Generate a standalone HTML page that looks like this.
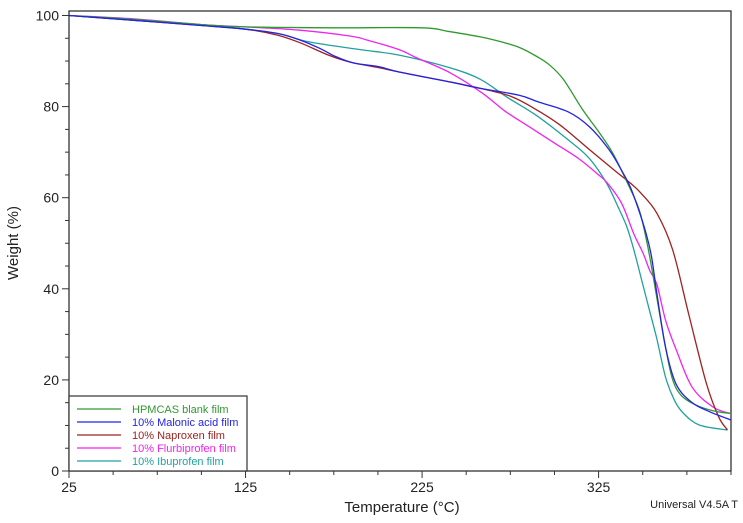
<!DOCTYPE html>
<html><head><meta charset="utf-8"><style>
html,body{margin:0;padding:0;background:#fff;}
svg{display:block;font-family:"Liberation Sans",Arial,sans-serif;}
</style></head><body>
<svg id="chart" width="743" height="523" viewBox="0 0 743 523">
<g id="axes"></g>
<g id="series"></g>
<g id="legend"></g>
<text x="18" y="243" transform="rotate(-90 18 243)" text-anchor="middle" font-size="15" fill="#222">Weight (%)</text>
<text x="402" y="512" text-anchor="middle" font-size="15" fill="#222">Temperature (°C)</text>
<text x="738" y="508" text-anchor="end" font-size="11" fill="#222">Universal V4.5A T</text>
</svg>
<script>
const xTickLabels = [25, 125, 225, 325];
const yTickLabels = [0, 20, 40, 60, 80, 100];
const seriesNames = ["HPMCAS blank film","10% Malonic acid film","10% Naproxen film","10% Flurbiprofen film","10% Ibuprofen film"];
const seriesColors = ["#2e9a2e","#2323e6","#a02222","#f024f0","#22a0a0"];
const greenT = [25,60,100,125,175,225,240,258,270,280,290,297,305,316,325,333,341,348,353,358,363,367,372,380,390,400];
const greenW = [100,99.2,98,97.5,97.3,97.3,96.5,95.3,94.2,93,91,89.2,86,79.3,74.5,69.8,63.5,57.3,49,38,27,20,16.5,14.5,13.2,12.6];
const blueT = [25,60,100,125,144,156,167,176,186,200,212,241,258,280,291,308,320,331,338,343,348,352,355,358,363,369,378,388,400];
const blueW = [100,99,97.8,97,96,94.6,92.8,91,89.6,88.8,87.6,85.4,84,82.5,81,78.8,75.5,70.5,66,62.3,57,52,47,39,27,19,15,13,11.2];
const redT = [25,60,100,125,143,156,172,184,201,212,241,258,275,289,303,320,334,343,349,358,367,376,386,393,398];
const redW = [100,99,97.8,97,95.7,94,91.3,89.8,88.5,87.6,85.4,84,82.3,79.5,76,70.5,66,63.2,61,56.6,48.5,34.5,19.3,11.9,9];
const magT = [25,60,100,125,155,184,194,212,222,241,259,272,286,300,314,325,330,338,345,350,354,358,363,369,378,390,400];
const magW = [100,99.3,98,97.5,96.8,95.5,94.6,92.5,90.7,87.4,83,79,75.5,72,68.5,65,63.2,58.8,52,48,44,41,33,26.6,18.4,14,12.6];
const tealT = [25,60,100,125,144,161,190,212,241,258,273,290,310,320,329.5,336,341,345,350,354,358,363,368,373,382,398];
const tealW = [100,99,98,97,96,94.2,92.5,91.3,88.5,86,82.1,78,72,68.5,63.2,58,53.6,48.5,41,35,29,20.5,15.5,12.7,10.1,9];

const X0=69,X1=731,Y0=471,Ytop=11;
const xs = t => X0 + (t-25)*(X1-X0)/375;
const ys = w => Y0 - w*4.555;
const NS="http://www.w3.org/2000/svg";
function mk(tag,attrs,parent){const e=document.createElementNS(NS,tag);for(const k in attrs)e.setAttribute(k,attrs[k]);parent.appendChild(e);return e;}
const axes=document.getElementById('axes');
const frame=mk('rect',{x:X0,y:Ytop,width:X1-X0,height:Y0-Ytop,fill:'none',stroke:'#333','stroke-width':1.3},axes);


for(let t=25;t<=400;t+=25){
  const major = xTickLabels.includes(t);
  const tk=mk('line',{x1:xs(t),x2:xs(t),y1:Y0,y2:Y0+(major?7:4),stroke:'#333','stroke-width':1},axes);
  
  
}
xTickLabels.forEach(t=>{
  const tx=mk('text',{x:xs(t),y:Y0+21,'text-anchor':'middle','font-size':14,fill:'#222'},axes);
  tx.textContent=t;
  
  
});
for(let w=0;w<=100;w+=5){
  const major = yTickLabels.includes(w);
  const tk=mk('line',{x1:X0-(major?7:4),x2:X0,y1:ys(w),y2:ys(w),stroke:'#333','stroke-width':1},axes);
  
  
}
yTickLabels.forEach(w=>{
  const tx=mk('text',{x:X0-10,y:ys(w)+5,'text-anchor':'end','font-size':14,fill:'#222'},axes);
  tx.textContent=w;
  
  
});
function smoothPath(T,W){
  const p=T.map((t,i)=>[xs(t),ys(W[i])]);
  let d='M'+p[0][0].toFixed(2)+','+p[0][1].toFixed(2);
  for(let i=0;i<p.length-1;i++){
    const a=p[Math.max(0,i-1)],b=p[i],c=p[i+1],e=p[Math.min(p.length-1,i+2)];
    const c1=[b[0]+(c[0]-a[0])/6,b[1]+(c[1]-a[1])/6],c2=[c[0]-(e[0]-b[0])/6,c[1]-(e[1]-b[1])/6];
    d+=' C'+c1.map(v=>v.toFixed(2)).join(',')+' '+c2.map(v=>v.toFixed(2)).join(',')+' '+c[0].toFixed(2)+','+c[1].toFixed(2);
  }
  return d;
}
const allT=[greenT,blueT,redT,magT,tealT], allW=[greenW,blueW,redW,magW,tealW];
const seriesKeys=['hpmcas','malonic','naproxen','flurbiprofen','ibuprofen'];
const sg=document.getElementById('series');
[4,3,2,0,1].forEach(i=>{
  const pth=mk('path',{d:smoothPath(allT[i],allW[i]),fill:'none',stroke:seriesColors[i],'stroke-width':1.3},sg);
  
  
});
const lg=document.getElementById('legend');
const lb=mk('rect',{x:69,y:396,width:178,height:75,fill:'#fff',stroke:'#333','stroke-width':1.2},lg);


seriesNames.forEach((n,i)=>{
  const y=409+i*13;
  const ln=mk('line',{x1:77,x2:121,y1:y,y2:y,stroke:seriesColors[i],'stroke-width':1.3},lg);
  
  
  const tx=mk('text',{x:132,y:y+4,'font-size':11,fill:seriesColors[i]},lg);
  tx.textContent=n;
  
  
});
</script>
</body></html>
